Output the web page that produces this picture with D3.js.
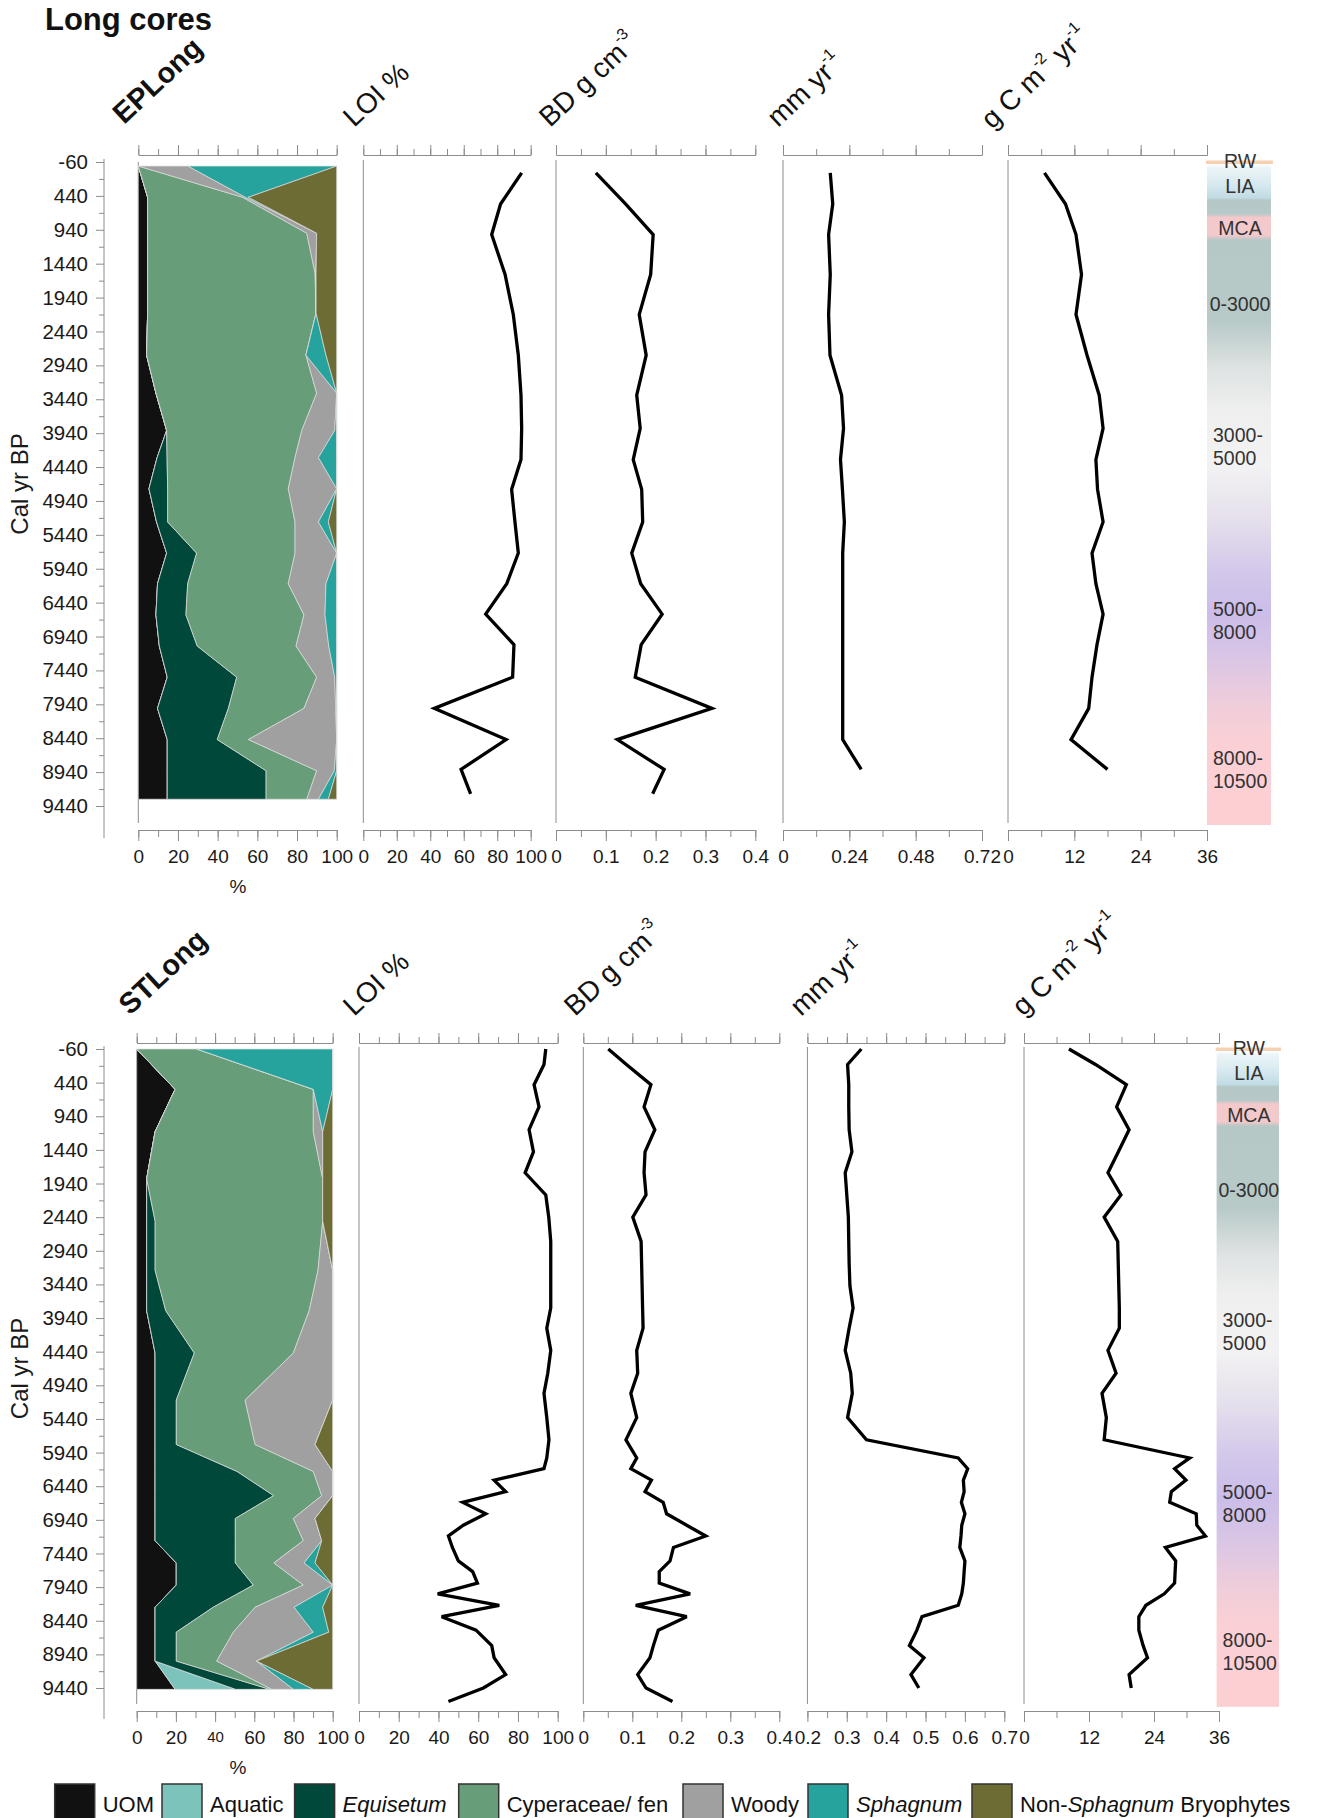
<!DOCTYPE html>
<html>
<head>
<meta charset="utf-8">
<script src="https://cdn.jsdelivr.net/npm/d3@7"></script>
<style>
  body { margin: 0; background: #fff; }
  text { font-family: "Liberation Sans", Arial, Helvetica, sans-serif; }
</style>
</head>
<body>
<div id="chart"></div>
<script>

// ---------- data ----------
var stratKeys = ["UOM", "Aquatic", "Equisetum", "Cyperaceae", "Woody", "Sphagnum", "NonSphagnum"];

var ageTicks = [-60, 440, 940, 1440, 1940, 2440, 2940, 3440, 3940, 4440, 4940, 5440, 5940, 6440, 6940, 7440, 7940, 8440, 8940, 9440];

// EPLong - stratigraphy (% of each component)
var epStratAge   = [0, 460, 990, 1580, 2170, 2790, 3350, 3900, 4300, 4760, 5250, 5710, 6160, 6620, 7080, 7540, 8000, 8460, 8920, 9340];
var epUOM        = [0, 4.7, 4.7, 4.7, 4.7, 4.2, 8.9, 14.3, 9.5, 5.4, 9.2, 14.3, 9.7, 8.9, 10.6, 14.6, 9.7, 14.6, 14.6, 14.6];
var epAquatic    = [0, 0, 0, 0, 0, 0, 0, 0, 0, 0, 0, 0, 0, 0, 0, 0, 0, 0, 0, 0];
var epEquisetum  = [0, 0, 0, 0, 0, 0, 0, 0, 5.0, 9.4, 5.6, 15.1, 15.2, 15.1, 19.1, 35.0, 35.7, 25.2, 49.8, 49.8];
var epCyperaceae = [0, 47.8, 80.2, 84.4, 84.9, 80.3, 81.0, 68.1, 64.5, 60.8, 64.2, 49.6, 50.7, 59.5, 49.8, 40.3, 38.1, 15.7, 25.5, 20.5];
var epWoody      = [25, 1.5, 5.0, 0.5, 0, 0, 10.1, 16.6, 11.8, 24.4, 11.8, 21.0, 19.0, 10.6, 16.5, 9.1, 16.0, 44.5, 8.9, 5.9];
var epSphagnum   = [75, 1.5, 0, 0, 0, 10.1, 0, 1.0, 9.2, 0, 5.0, 0, 5.4, 5.9, 4.0, 1.0, 0.5, 0, 1.2, 5.0];
var epNonSph     = [0, 44.5, 10.1, 10.4, 10.4, 5.4, 0, 0, 0, 0, 4.2, 0, 0, 0, 0, 0, 0, 0, 0, 4.2];

// EPLong - LOI, bulk density, accumulation rate, carbon accumulation
var epLineAge = [100, 560, 1010, 1600, 2190, 2790, 3380, 3870, 4330, 4770, 5250, 5710, 6160, 6610, 7060, 7540, 8000, 8460, 8900, 9260];
var epLOI  = [94.6, 82.0, 76.7, 84.7, 89.6, 92.6, 94.2, 94.6, 94.2, 88.6, 90.6, 92.6, 85.7, 73.1, 90.0, 89.2, 42.4, 85.3, 58.4, 64.1];
var epBD   = [0.080, 0.140, 0.195, 0.190, 0.167, 0.181, 0.162, 0.169, 0.155, 0.172, 0.174, 0.152, 0.170, 0.213, 0.171, 0.159, 0.313, 0.123, 0.217, 0.194];
var epAcc  = [0.171, 0.180, 0.165, 0.171, 0.165, 0.170, 0.212, 0.219, 0.208, 0.215, 0.222, 0.216, 0.216, 0.216, 0.216, 0.216, 0.216, 0.216, 0.283];
var epCAR  = [6.6, 10.4, 12.3, 13.3, 12.3, 14.3, 16.5, 17.2, 15.9, 16.2, 17.2, 15.2, 15.9, 17.2, 16.1, 15.2, 14.6, 11.4, 18.0];

// STLong - stratigraphy
var stStratAge   = [-60, 540, 1170, 1870, 2500, 3230, 3830, 4460, 5160, 5820, 6220, 6580, 6920, 7250, 7580, 7910, 8240, 8610, 9040, 9460];
var stUOM        = [0, 19.6, 9.4, 5.1, 5.1, 5.1, 5.1, 9.4, 9.4, 9.4, 9.4, 9.4, 9.4, 9.4, 20.2, 20.2, 9.4, 9.4, 9.4, 19.6];
var stAquatic    = [0, 0, 0, 0, 0, 0, 0, 0, 0, 0, 0, 0, 0, 0, 0, 0, 0, 0, 0, 30.9];
var stEquisetum  = [0, 0, 0, 0, 4.3, 4.3, 9.7, 20.0, 10.8, 10.8, 41.8, 60.5, 40.9, 40.9, 30.1, 39.3, 29.6, 10.8, 10.8, 17.4];
var stCyperaceae = [30.6, 70.5, 80.7, 89.8, 85.5, 83.1, 73.2, 50.5, 35.1, 40.2, 38.9, 24.5, 29.6, 34.7, 19.7, 25.5, 21.4, 29.1, 20.6, 1.1];
var stWoody      = [0, 0, 4.8, 0, 0, 7.5, 12.0, 20.1, 44.7, 30.6, 9.9, 5.6, 11.1, 9.4, 15.4, 15.0, 19.9, 40.8, 20.4, 11.0];
var stSphagnum   = [69.4, 9.9, 0, 0, 0, 0, 0, 0, 0, 0, 0, 0, 0, 0, 5.6, 0, 14.6, 7.9, 0, 10.1];
var stNonSph     = [0, 0, 5.1, 5.1, 5.1, 0, 0, 0, 0, 9.0, 0, 0, 9.0, 5.6, 9.0, 0, 5.1, 2.0, 38.8, 9.9];

// STLong - LOI, bulk density, accumulation rate, carbon accumulation
var stLineAge = [-60, 170, 470, 800, 1140, 1470, 1780, 2110, 2440, 2800, 3130, 3460, 3790, 4090, 4420, 4760, 5060, 5420, 5750, 6020,
                 6180, 6350, 6520, 6680, 6850, 7020, 7180, 7350, 7550, 7710, 7880, 8040, 8210, 8380, 8580, 8810, 8990, 9240, 9440, 9640];
var stLOI = [94.0, 93.1, 88.1, 90.6, 85.6, 87.8, 83.6, 94.0, 95.5, 96.5, 96.5, 96.5, 96.5, 94.5, 96.5, 95.0, 93.1, 94.5, 95.6, 94.5,
             93.1, 68.0, 73.8, 52.2, 63.8, 52.5, 45.0, 47.0, 50.0, 57.2, 59.6, 39.6, 70.6, 41.6, 58.9, 66.8, 68.0, 73.8, 62.6, 45.0];
var stBD  = [0.051, 0.088, 0.138, 0.124, 0.146, 0.126, 0.124, 0.128, 0.101, 0.118, 0.119, 0.120, 0.121, 0.122, 0.109, 0.111, 0.097, 0.109, 0.087, 0.109,
             0.097, 0.139, 0.126, 0.163, 0.170, 0.211, 0.250, 0.184, 0.177, 0.155, 0.155, 0.218, 0.107, 0.211, 0.153, 0.143, 0.136, 0.111, 0.128, 0.182];
var stAcc = [0.337, 0.302, 0.305, 0.305, 0.306, 0.313, 0.296, 0.300, 0.304, 0.305, 0.306, 0.308, 0.316, 0.306, 0.296, 0.310, 0.314, 0.302, 0.350, 0.583,
             0.607, 0.596, 0.598, 0.591, 0.600, 0.592, 0.590, 0.587, 0.600, 0.598, 0.596, 0.592, 0.583, 0.491, 0.478, 0.459, 0.496, 0.463, 0.483];
var stCAR = [8.3, 13.2, 18.9, 17.1, 19.4, 17.4, 15.5, 17.9, 14.8, 17.3, 17.4, 17.5, 17.6, 17.6, 15.5, 17.0, 14.4, 15.2, 14.8, 30.6,
             27.8, 29.9, 27.2, 26.9, 31.8, 31.9, 33.5, 26.1, 28.0, 27.9, 27.8, 25.9, 22.5, 21.2, 21.2, 22.0, 22.8, 19.4, 19.8];

// climate periods
var climateLabels = [["RW"], ["LIA"], ["MCA"], ["0-3000"], ["3000-", "5000"], ["5000-", "8000"], ["8000-", "10500"]];
var climateLabelAge = [-80, 300, 920, 2040, 4140, 6700, 8900];
var climateStopAge = [-60, -20, 20, 250, 470, 500, 700, 760, 1020, 1090, 2300, 3000, 3600, 4400, 5200, 6000, 6600, 7200, 7900, 8500, 9720];

var legendLabels = [
  [["UOM", false]], [["Aquatic", false]], [["Equisetum", true]], [["Cyperaceae/ fen", false]],
  [["Woody", false]], [["Sphagnum", true]], [["Non-", false], ["Sphagnum", true], [" Bryophytes", false]]
];

// ---------- styles ----------
var stratColors = ["#111111", "#7cc3bc", "#00483a", "#679d78", "#a0a0a0", "#27a39d", "#6e6c35"];
var climateColors = ["#ffffff", "#ffffff", "#ecf5f8", "#d8eaf0", "#c1dbe4", "#b5c8c7", "#b6c8c7", "#f4c9cc", "#f4c9cc", "#b5c8c6",
                     "#b8cac8", "#dfe3e3", "#efefef", "#f3f2f3", "#e5e0ec", "#d3c7ea", "#cbbde9", "#d8c5e6", "#eecddb", "#fbd0d4", "#fccfd3"];
var axisColor = "#8c8c8c";

var W = 1317, H = 1818;

var svg = d3.select("#chart").append("svg")
  .attr("width", W)
  .attr("height", H);

svg.append("rect").attr("width", W).attr("height", H).attr("fill", "#fff");

svg.append("text")
  .attr("x", 45).attr("y", 30)
  .attr("font-size", 31).attr("font-weight", "bold").attr("fill", "#111")
  .text("Long cores");

var fmt = function (d) { return String(+d.toFixed(2)); };

// the two cores
var cores = [
  {
    name: "EPLong", yTop: 162, yBot: 806, axTop: 155, axBot: 830, pctY: 893,
    stratAge: epStratAge,
    strat: [epUOM, epAquatic, epEquisetum, epCyperaceae, epWoody, epSphagnum, epNonSph],
    lineAge: epLineAge,
    lines: [epLOI, epBD, epAcc, epCAR],
    stratX: [138.3, 336.7],
    lineX: [[363.3, 530.7], [556, 755.3], [783, 982], [1008, 1207]],
    domains: [[0, 100], [0, 0.4], [0, 0.72], [0, 36]],
    minor: [d3.range(0, 101, 10), d3.range(0, 0.41, 0.05), d3.range(0, 0.73, 0.12), d3.range(0, 37, 6)],
    major: [d3.range(0, 101, 20), [0, 0.1, 0.2, 0.3, 0.4], [0, 0.24, 0.48, 0.72], [0, 12, 24, 36]],
    climX: [1207, 1271],
    heads: [[124, 125], [354, 128], [550, 128], [778, 128], [992, 130]],
    smallForty: false
  },
  {
    name: "STLong", yTop: 1049, yBot: 1688, axTop: 1043, axBot: 1711, pctY: 1774,
    stratAge: stStratAge,
    strat: [stUOM, stAquatic, stEquisetum, stCyperaceae, stWoody, stSphagnum, stNonSph],
    lineAge: stLineAge,
    lines: [stLOI, stBD, stAcc, stCAR],
    stratX: [136.7, 332.7],
    lineX: [[359, 557.7], [583.3, 779.3], [807.4, 1004.3], [1024, 1219]],
    domains: [[0, 100], [0, 0.4], [0.2, 0.7], [0, 36]],
    minor: [d3.range(0, 101, 10), d3.range(0, 0.41, 0.05), d3.range(0.2, 0.71, 0.05), d3.range(0, 37, 6)],
    major: [d3.range(0, 101, 20), [0, 0.1, 0.2, 0.3, 0.4], [0.2, 0.3, 0.4, 0.5, 0.6, 0.7], [0, 12, 24, 36]],
    climX: [1216.6, 1279],
    heads: [[130, 1016], [354, 1017], [575, 1017], [801, 1017], [1023, 1017]],
    smallForty: true
  }
];

var headTexts = [null, ["LOI %"], ["BD g cm", "-3"], ["mm yr", "-1"], ["g C m", "-2", " yr", "-1"]];

function styleAxis(g) {
  g.selectAll(".domain").attr("stroke", axisColor);
  g.selectAll(".tick line").attr("stroke", axisColor);
  g.selectAll(".tick text").attr("fill", "#1a1a1a").attr("font-size", 19)
    .attr("font-family", '"Liberation Sans", Arial, sans-serif');
}

// top and bottom axes of one panel
function panelAxes(g, x, core, minor, major, fmtFn) {
  g.append("g").attr("transform", `translate(0,${core.axTop})`)
    .call(d3.axisTop(x).tickValues(minor).tickSize(6).tickSizeOuter(0).tickFormat(""))
    .call(styleAxis);
  g.append("g").attr("transform", `translate(0,${core.axTop})`)
    .call(d3.axisTop(x).tickValues(major).tickSize(10).tickSizeOuter(0).tickFormat(""))
    .call(styleAxis);
  g.append("g").attr("transform", `translate(0,${core.axBot})`)
    .call(d3.axisBottom(x).tickValues(minor).tickSize(7).tickSizeOuter(0).tickFormat(""))
    .call(styleAxis);
  var lab = g.append("g").attr("transform", `translate(0,${core.axBot})`)
    .call(d3.axisBottom(x).tickValues(major).tickSize(11).tickSizeOuter(0).tickPadding(9).tickFormat(fmtFn))
    .call(styleAxis);
  return lab;
}

function headLabel(g, pos, parts, bold) {
  var t = g.append("text")
    .attr("transform", `translate(${pos[0]},${pos[1]}) rotate(-43)`)
    .attr("font-size", bold ? 29 : 28)
    .attr("font-weight", bold ? "bold" : null)
    .attr("fill", "#111");
  parts.forEach(function (p, i) {
    var sup = i % 2 === 1;
    t.append("tspan")
      .attr("font-size", sup ? 16 : (bold ? 29 : 28))
      .attr("dy", sup ? -14 : (i > 0 ? 14 : 0))
      .text(p);
  });
}

cores.forEach(function (core, ci) {
  var g = svg.append("g");

  var y = d3.scaleLinear().domain([-60, 9440]).range([core.yTop, core.yBot]);

  // ---- y axis ----
  var yAxisX = 104;
  g.append("line")
    .attr("x1", yAxisX).attr("x2", yAxisX)
    .attr("y1", core.yTop - 3).attr("y2", core.axBot + 8)
    .attr("stroke", axisColor);
  g.append("g").attr("transform", `translate(${yAxisX},0)`)
    .call(d3.axisLeft(y).tickValues(ageTicks.slice(0, -1).map(function (d) { return d + 250; }))
      .tickSize(5).tickFormat(""))
    .call(function (a) { a.select(".domain").remove(); })
    .call(styleAxis);
  g.append("g").attr("transform", `translate(${yAxisX},0)`)
    .call(d3.axisLeft(y).tickValues(ageTicks).tickSize(8).tickPadding(8)
      .tickFormat(function (d) { return String(d); }))
    .call(function (a) { a.select(".domain").remove(); })
    .call(styleAxis)
    .call(function (a) { a.selectAll(".tick text").attr("font-size", 20.5); });

  g.append("text")
    .attr("transform", `translate(28,${(core.yTop + core.yBot) / 2}) rotate(-90)`)
    .attr("text-anchor", "middle")
    .attr("font-size", 24)
    .attr("fill", "#1a1a1a")
    .text("Cal yr BP");

  // ---- stratigraphy ----
  var xs = d3.scaleLinear().domain([0, 100]).range(core.stratX);
  var rows = core.stratAge.map(function (a, i) {
    var r = { age: a };
    stratKeys.forEach(function (k, j) { r[k] = core.strat[j][i]; });
    return r;
  });
  var layers = d3.stack().keys(stratKeys)(rows);
  var area = d3.area()
    .y(function (d) { return y(d.data.age); })
    .x0(function (d) { return xs(d[0]); })
    .x1(function (d) { return xs(Math.min(100, d[1])); });

  g.append("line")
    .attr("x1", core.stratX[0]).attr("x2", core.stratX[0])
    .attr("y1", core.yTop).attr("y2", core.axBot - 7)
    .attr("stroke", axisColor);

  g.selectAll(".strat")
    .data(layers)
    .enter()
    .append("path")
    .attr("class", "strat")
    .attr("d", area)
    .attr("fill", function (d, i) { return stratColors[i]; })
    .attr("stroke", "#dcdcdc")
    .attr("stroke-width", 0.7);

  var sLab = panelAxes(g, xs, core, d3.range(0, 101, 10), d3.range(0, 101, 20), fmt);
  if (core.smallForty) {
    sLab.selectAll(".tick text").filter(function (d) { return d === 40; }).attr("font-size", 15);
  }

  g.append("text")
    .attr("x", 238).attr("y", core.pctY)
    .attr("text-anchor", "middle")
    .attr("font-size", 19)
    .attr("fill", "#1a1a1a")
    .text("%");

  headLabel(g, core.heads[0], [core.name], true);

  // ---- line panels ----
  core.lines.forEach(function (vals, li) {
    var x = d3.scaleLinear().domain(core.domains[li]).range(core.lineX[li]);

    g.append("line")
      .attr("x1", core.lineX[li][0]).attr("x2", core.lineX[li][0])
      .attr("y1", core.yTop - 2).attr("y2", core.axBot - 7)
      .attr("stroke", axisColor);

    panelAxes(g, x, core, core.minor[li], core.major[li], fmt);

    var pts = vals.map(function (v, i) { return [v, core.lineAge[i]]; });
    var line = d3.line()
      .x(function (d) { return x(d[0]); })
      .y(function (d) { return y(d[1]); });

    g.append("path")
      .datum(pts)
      .attr("d", line)
      .attr("fill", "none")
      .attr("stroke", "#000")
      .attr("stroke-width", 3.3)
      .attr("stroke-linejoin", "miter")
      .attr("stroke-miterlimit", 3);

    headLabel(g, core.heads[li + 1], headTexts[li + 1], false);
  });

  // ---- climate bar ----
  var gy1 = y(-60), gy2 = y(9720);
  var grad = svg.append("defs").append("linearGradient")
    .attr("id", "clim" + ci)
    .attr("gradientUnits", "userSpaceOnUse")
    .attr("x1", 0).attr("x2", 0)
    .attr("y1", gy1).attr("y2", gy2);
  climateStopAge.forEach(function (a, i) {
    grad.append("stop")
      .attr("offset", (y(a) - gy1) / (gy2 - gy1))
      .attr("stop-color", climateColors[i]);
  });
  var cx0 = core.climX[0], cx1 = core.climX[1];
  g.append("rect")
    .attr("x", cx0).attr("y", gy1)
    .attr("width", cx1 - cx0).attr("height", gy2 - gy1)
    .attr("fill", "url(#clim" + ci + ")");
  g.append("rect")
    .attr("x", cx0 - 1).attr("y", gy1 - 1.5)
    .attr("width", cx1 - cx0 + 3).attr("height", 3.5)
    .attr("fill", "#f5d1b2");

  climateLabels.forEach(function (lines, i) {
    var cy = y(climateLabelAge[i]);
    var t = g.append("text")
      .attr("font-size", 19.5)
      .attr("fill", "#333");
    if (lines.length === 1) {
      t.attr("x", (cx0 + cx1) / 2 + 1).attr("y", cy).attr("dy", "0.36em")
        .attr("text-anchor", "middle").text(lines[0]);
    } else {
      lines.forEach(function (s, k) {
        t.append("tspan")
          .attr("x", cx0 + 6)
          .attr("y", cy + (k - 0.5) * 22.5)
          .attr("dy", "0.36em")
          .text(s);
      });
    }
  });
});

// ---------- legend ----------
var legendX = [54.7, 162, 294.6, 458.7, 683, 808, 972];
var leg = svg.append("g");
legendLabels.forEach(function (parts, i) {
  leg.append("rect")
    .attr("x", legendX[i]).attr("y", 1784)
    .attr("width", 40).attr("height", 36)
    .attr("fill", stratColors[i])
    .attr("stroke", "#333")
    .attr("stroke-width", 1.5);
  var t = leg.append("text")
    .attr("x", legendX[i] + 48).attr("y", 1812)
    .attr("font-size", 22)
    .attr("fill", "#111");
  parts.forEach(function (p) {
    t.append("tspan")
      .attr("font-style", p[1] ? "italic" : null)
      .text(p[0]);
  });
});

</script>
</body>
</html>
